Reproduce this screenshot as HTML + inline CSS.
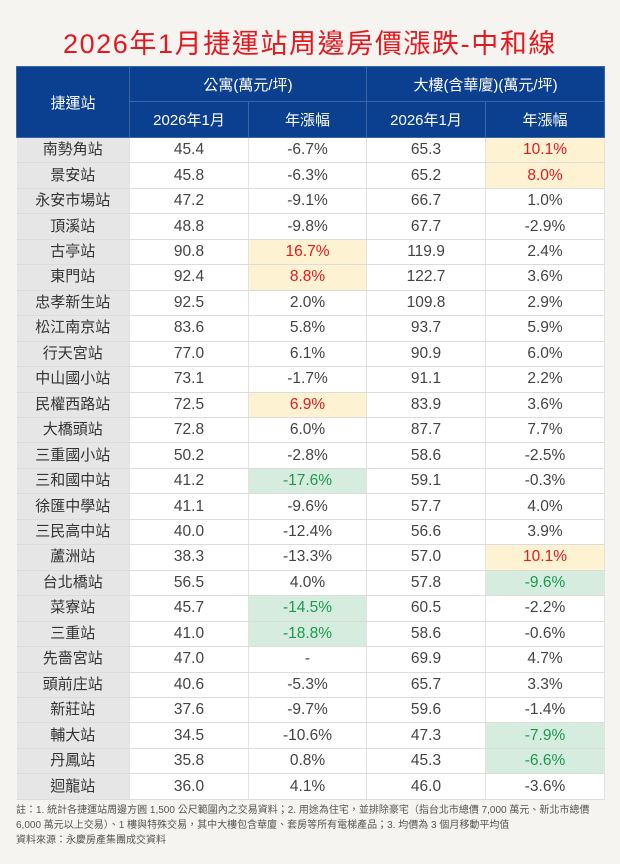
<!DOCTYPE html>
<html><head><meta charset="utf-8">
<style>
body{margin:0;width:620px;height:864px;background:#f5f4f0;font-family:"Liberation Sans","Noto Sans CJK TC",sans-serif;position:relative;overflow:hidden}
#title{position:absolute;left:0;top:24px;width:620px;text-align:center;color:#e3191f;font-size:27px;line-height:40px;letter-spacing:1.6px}
table{position:absolute;left:16px;top:66px;width:588px;border-collapse:collapse;table-layout:fixed}
th{background:#0b3f8f;color:#fff;font-weight:normal;font-size:15px;border:1px solid #3a65a8;padding:0}
td{height:24.46px;border-bottom:1px solid #dcdcdc;border-right:1px solid #e2e2e2;text-align:center;font-size:15.5px;color:#444;padding:0;background:#fff;line-height:24px}
td.st{background:#e6e6e6;color:#333;font-size:15px}
td.y{background:#fdf3d3;color:#e3191f}
td.g{background:#d6ecdf;color:#1a9a4f}
#notes{position:absolute;left:16px;top:803px;width:596px;font-size:10px;color:#555;line-height:15px}
</style></head><body>
<div id="title">2026年1月捷運站周邊房價漲跌-中和線</div>
<table>
<colgroup><col style="width:113px"><col style="width:119px"><col style="width:118px"><col style="width:119px"><col style="width:119px"></colgroup>
<thead>
<tr style="height:35px"><th rowspan="2">捷運站</th><th colspan="2">公寓(萬元/坪)</th><th colspan="2">大樓(含華廈)(萬元/坪)</th></tr>
<tr style="height:36px"><th>2026年1月</th><th>年漲幅</th><th>2026年1月</th><th>年漲幅</th></tr>
</thead>
<tbody id="tb"></tbody>
</table>
<div id="notes">註：1. 統計各捷運站周邊方圓 1,500 公尺範圍內之交易資料；2. 用途為住宅，並排除豪宅（指台北市總價 7,000 萬元、新北市總價 6,000 萬元以上交易）、1 樓與特殊交易，其中大樓包含華廈、套房等所有電梯產品；3. 均價為 3 個月移動平均值<br>資料來源：永慶房產集團成交資料</div>
<script>
const rows=[
["南勢角站","45.4","-6.7%","65.3","10.1%"],
["景安站","45.8","-6.3%","65.2","8.0%"],
["永安市場站","47.2","-9.1%","66.7","1.0%"],
["頂溪站","48.8","-9.8%","67.7","-2.9%"],
["古亭站","90.8","16.7%","119.9","2.4%"],
["東門站","92.4","8.8%","122.7","3.6%"],
["忠孝新生站","92.5","2.0%","109.8","2.9%"],
["松江南京站","83.6","5.8%","93.7","5.9%"],
["行天宮站","77.0","6.1%","90.9","6.0%"],
["中山國小站","73.1","-1.7%","91.1","2.2%"],
["民權西路站","72.5","6.9%","83.9","3.6%"],
["大橋頭站","72.8","6.0%","87.7","7.7%"],
["三重國小站","50.2","-2.8%","58.6","-2.5%"],
["三和國中站","41.2","-17.6%","59.1","-0.3%"],
["徐匯中學站","41.1","-9.6%","57.7","4.0%"],
["三民高中站","40.0","-12.4%","56.6","3.9%"],
["蘆洲站","38.3","-13.3%","57.0","10.1%"],
["台北橋站","56.5","4.0%","57.8","-9.6%"],
["菜寮站","45.7","-14.5%","60.5","-2.2%"],
["三重站","41.0","-18.8%","58.6","-0.6%"],
["先嗇宮站","47.0","-","69.9","4.7%"],
["頭前庄站","40.6","-5.3%","65.7","3.3%"],
["新莊站","37.6","-9.7%","59.6","-1.4%"],
["輔大站","34.5","-10.6%","47.3","-7.9%"],
["丹鳳站","35.8","0.8%","45.3","-6.6%"],
["迴龍站","36.0","4.1%","46.0","-3.6%"]];
const hl=[
["","","","","y"],["","","","","y"],[],[],["","","y"],["","","y"],[],[],[],[],["","","y"],[],[],["","","g"],[],[],["","","","","y"],["","","","","g"],["","","g"],["","","g"],[],[],[],["","","","","g"],["","","","","g"],[]];
const tb=document.getElementById('tb');
rows.forEach((r,i)=>{
  const tr=document.createElement('tr');
  
  
  r.forEach((v,j)=>{
    const td=document.createElement('td');
    td.textContent=v;
    let c=j===0?'st':'';
    const h=(hl[i]||[])[j];
    if(h)c=h;
    if(c)td.className=c;
    
    
    tr.appendChild(td);
  });
  tb.appendChild(tr);
});
</script>
</body></html>
